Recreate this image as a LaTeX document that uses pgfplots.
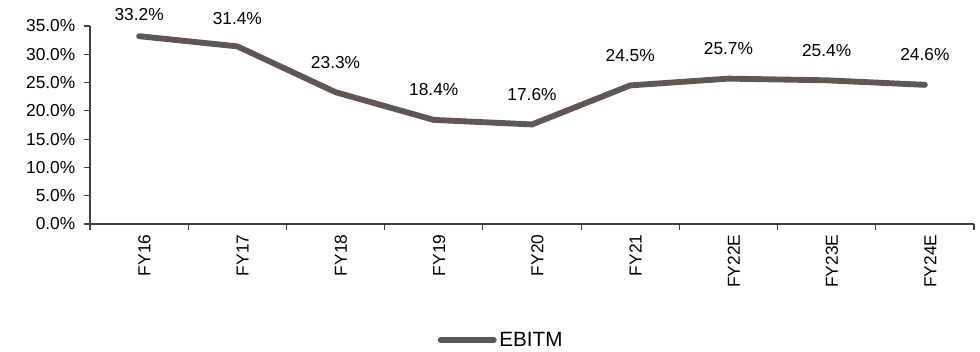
\documentclass[border=0pt]{standalone}
\usepackage{pgfplots}
\pgfplotsset{compat=1.18}
\usepackage{fontspec}
\setmainfont{Liberation Sans}
\definecolor{linec}{RGB}{94,87,83}
\definecolor{axc}{RGB}{64,64,64}
\begin{document}
\begin{tikzpicture}
\begin{axis}[
  name=ax,
  scale only axis,
  width=663pt, height=148.5pt,
  xmin=-0.5, xmax=8.5, ymin=0, ymax=35,
  axis x line*=bottom, axis y line*=left,
  axis line style={axc, line width=0.8pt},
  xtick={0,...,8},
  xticklabels={FY16,FY17,FY18,FY19,FY20,FY21,FY22E,FY23E,FY24E},
  x tick label style={rotate=90, anchor=east, font=\fontsize{13}{15}\selectfont, text=black, yshift=-4pt},
  major x tick style={draw=none},
  minor xtick={-0.5,0.5,...,8.5},
  minor tick length=4.5pt,
  minor x tick style={axc, line width=0.8pt},
  every tick/.append style={axc, line width=0.8pt},
  xtick pos=bottom, ytick pos=left,
  tick align=outside,
  major tick length=4.5pt,
  ytick={0,5,...,35},
  yticklabel={\pgfmathprintnumber[fixed,fixed zerofill,precision=1]{\tick}\%},
  y tick label style={font=\fontsize{13}{15}\selectfont, text=black, xshift=-3pt},
  /pgf/number format/assume math mode=true,
  clip=false,
  legend style={draw=none, at={(0.4655,-0.586)}, anchor=center, font=\fontsize{15.5}{17}\selectfont, inner sep=0pt, nodes={inner sep=2pt}},
  legend image code/.code={\draw[#1, line width=4.2pt, line cap=round] (0pt,0pt) -- (40pt,0pt);},
  nodes near coords,
  point meta=explicit symbolic,
  visualization depends on={y \as \yv},
  every node near coord/.append style={font=\fontsize{13}{15}\selectfont, text=black, anchor=center, yshift={min(22.5,16.5+(33.2-\yv)*2.5)*1pt}},
]
\addplot[linec, line width=4.4pt, line cap=round, line join=round] table[meta=lab] {
x y lab
0 33.2 33.2\%
1 31.4 31.4\%
2 23.3 23.3\%
3 18.4 18.4\%
4 17.6 17.6\%
5 24.5 24.5\%
6 25.7 25.7\%
7 25.4 25.4\%
8 24.6 24.6\%
};
\addlegendentry{EBITM}
\end{axis}
\path (ax.south west) ++(-67.5pt,-95.25pt) coordinate (bl);
\path (ax.north east) ++(4.5pt,19.5pt) coordinate (tr);
\path[use as bounding box] (bl) rectangle (tr);
\end{tikzpicture}
\end{document}
